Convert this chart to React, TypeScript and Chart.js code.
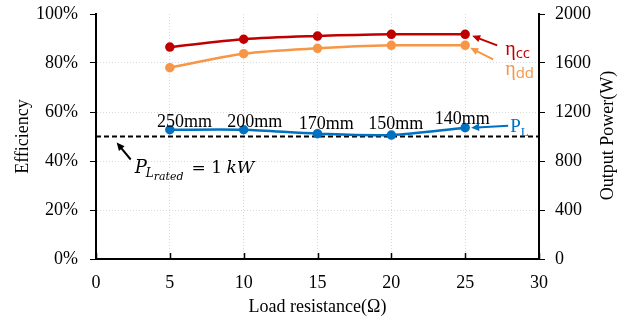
import React, { useEffect, useRef } from "react";
import { Chart, registerables } from "chart.js";

Chart.register(...registerables);

// ---- data ----
const resistance = [5, 10, 15, 20, 25];
const etaCC = [86.5, 89.7, 91.0, 91.7, 91.7];
const etaDD = [78.1, 83.8, 86.0, 87.2, 87.2];
const powerL = [1055, 1055, 1023, 1012, 1072];
const ratedPower = 1000;
const ratedSpan = [0, 30];
const gapLabels = ["250mm", "200mm", "170mm", "150mm", "140mm"];
const xTicks = [0, 5, 10, 15, 20, 25, 30];

// annotation anchors (data units)
const gapLabelAt = [
  { x: 6.0, y: 1118 },
  { x: 10.75, y: 1118 },
  { x: 15.6, y: 1102 },
  { x: 20.3, y: 1102 },
  { x: 24.8, y: 1143 },
];

const RED = "#C00000";
const ORANGE = "#F79646";
const BLUE = "#0070C0";
const FONT = '"Liberation Serif", "Times New Roman", serif';
const MATH = '"DejaVu Serif", "Liberation Serif", serif';
const GRID = "#d9d9d9";

function arrow(ctx: CanvasRenderingContext2D, x1: number, y1: number, x2: number, y2: number, color: string, w = 2, head = 8) {
  const ang = Math.atan2(y2 - y1, x2 - x1);
  ctx.save();
  ctx.strokeStyle = color;
  ctx.fillStyle = color;
  ctx.lineWidth = w;
  ctx.setLineDash([]);
  ctx.beginPath();
  ctx.moveTo(x1, y1);
  ctx.lineTo(x2 - Math.cos(ang) * head * 0.7, y2 - Math.sin(ang) * head * 0.7);
  ctx.stroke();
  ctx.beginPath();
  ctx.moveTo(x2, y2);
  ctx.lineTo(x2 - head * Math.cos(ang) + (head / 2.2) * Math.sin(ang), y2 - head * Math.sin(ang) - (head / 2.2) * Math.cos(ang));
  ctx.lineTo(x2 - head * Math.cos(ang) - (head / 2.2) * Math.sin(ang), y2 - head * Math.sin(ang) + (head / 2.2) * Math.cos(ang));
  ctx.closePath();
  ctx.fill();
  ctx.restore();
}

type Part = { t: string; size: number; dy: number; italic?: boolean; family?: string; dx?: number };
function drawParts(ctx: CanvasRenderingContext2D, x: number, yBase: number, parts: Part[], color: string) {
  ctx.save();
  ctx.fillStyle = color;
  ctx.textAlign = "left";
  ctx.textBaseline = "alphabetic";
  let cx = x;
  for (const p of parts) {
    ctx.font = `${p.italic ? "italic " : ""}${p.size}px ${p.family || FONT}`;
    cx += p.dx || 0;
    ctx.fillText(p.t, cx, yBase + p.dy);
    cx += ctx.measureText(p.t).width;
  }
  ctx.restore();
}

const annotations = {
  id: "annotations",
  beforeDatasetsDraw(chart: any) {
    const ctx = chart.ctx as CanvasRenderingContext2D;
    const xs = chart.scales.x;
    const bottom = chart.chartArea.bottom;
    ctx.save();
    ctx.strokeStyle = "#000";
    ctx.lineWidth = 1.5;
    for (const v of xTicks) {
      const px = Math.round(xs.getPixelForValue(v)) + 0.5;
      ctx.beginPath();
      ctx.moveTo(px, bottom);
      ctx.lineTo(px, bottom - 6);
      ctx.stroke();
    }
    ctx.restore();
  },
  afterDraw(chart: any) {
    const ctx = chart.ctx as CanvasRenderingContext2D;
    const { left, right, top, bottom } = chart.chartArea;
    const xs = chart.scales.x;
    const y1 = chart.scales.y1;
    const midY = (top + bottom) / 2;

    // axis titles
    ctx.save();
    ctx.fillStyle = "#000";
    ctx.font = `18px ${FONT}`;
    ctx.textAlign = "center";
    ctx.textBaseline = "middle";
    ctx.fillText("Load resistance(Ω)", (left + right) / 2, bottom + 48);
    ctx.save();
    ctx.translate(left - 73, midY);
    ctx.rotate(-Math.PI / 2);
    ctx.fillText("Efficiency", 0, 0);
    ctx.restore();
    ctx.save();
    ctx.translate(right + 69, midY - 1);
    ctx.rotate(-Math.PI / 2);
    ctx.fillText("Output Power(W)", 0, 0);
    ctx.restore();

    // gap labels
    ctx.font = `18px ${FONT}`;
    ctx.textAlign = "center";
    ctx.textBaseline = "middle";
    gapLabels.forEach((t, i) => {
      ctx.fillText(t, xs.getPixelForValue(gapLabelAt[i].x), y1.getPixelForValue(gapLabelAt[i].y));
    });
    ctx.restore();

    // series labels + arrows
    const metaCC = chart.getDatasetMeta(0).data;
    const metaDD = chart.getDatasetMeta(1).data;
    const metaPL = chart.getDatasetMeta(2).data;
    const pc = metaCC[metaCC.length - 1];
    const pd = metaDD[metaDD.length - 1];
    const pp = metaPL[metaPL.length - 1];

    arrow(ctx, pc.x + 32, pc.y + 11, pc.x + 7, pc.y + 1.5, RED);
    drawParts(ctx, pc.x + 40, pc.y + 21, [
      { t: "η", size: 20, dy: 0 },
      { t: "cc", size: 15, dy: 3, family: '"Open Sans", sans-serif' },
    ], RED);

    arrow(ctx, pd.x + 28, pd.y + 14, pd.x + 5, pd.y + 2.5, ORANGE);
    drawParts(ctx, pd.x + 40, pd.y + 30, [
      { t: "η", size: 20, dy: 0 },
      { t: "dd", size: 15, dy: 3, family: '"Open Sans", sans-serif' },
    ], ORANGE);

    arrow(ctx, pp.x + 43, pp.y - 2, pp.x + 6, pp.y, BLUE);
    drawParts(ctx, pp.x + 45, pp.y + 4, [
      { t: "P", size: 19, dy: 0 },
      { t: "L", size: 13, dy: 4 },
    ], BLUE);

    // rated annotation
    const ry = y1.getPixelForValue(ratedPower);
    const ax = xs.getPixelForValue(1.4);
    arrow(ctx, ax + 14, ry + 23, ax, ry + 6, "#000");
    drawParts(ctx, ax + 18, ry + 36, [
      { t: "P", size: 18, dy: 0, italic: true, family: MATH },
      { t: "L", size: 12, dy: 4, italic: true, dx: -1, family: MATH },
      { t: "rated", size: 11, dy: 7, italic: true, dx: 0, family: MATH },
      { t: "= 1 ", size: 17, dy: 0, dx: 8, family: MATH },
      { t: "kW", size: 17, dy: 0, italic: true, dx: -1, family: MATH },
    ], "#000");
  },
};

export default function App() {
  const ref = useRef<HTMLCanvasElement | null>(null);
  useEffect(() => {
    if (!ref.current) return;
    const pts = (ys: number[]) => resistance.map((x, i) => ({ x, y: ys[i] }));
    const chart = new Chart(ref.current, {
      type: "line",
      data: {
        datasets: [
          {
            data: pts(etaCC),
            yAxisID: "y",
            borderColor: RED,
            backgroundColor: RED,
            borderWidth: 2.5,
            pointRadius: 3.5,
            tension: 0.3,
          },
          {
            data: pts(etaDD),
            yAxisID: "y",
            borderColor: ORANGE,
            backgroundColor: ORANGE,
            borderWidth: 2.5,
            pointRadius: 3.5,
            tension: 0.3,
          },
          {
            data: pts(powerL),
            yAxisID: "y1",
            borderColor: BLUE,
            backgroundColor: BLUE,
            borderWidth: 2.5,
            pointRadius: 3.5,
            tension: 0.3,
          },
          {
            data: ratedSpan.map((x) => ({ x, y: ratedPower })),
            yAxisID: "y1",
            borderColor: "#000",
            borderWidth: 1.8,
            borderDash: [5, 3],
            pointRadius: 0,
            tension: 0,
          },
        ],
      },
      options: {
        animation: false,
        responsive: false,
        maintainAspectRatio: false,
        layout: { padding: { top: 14, left: 0, right: 0, bottom: 0 } },
        plugins: { legend: { display: false }, tooltip: { enabled: false } },
        scales: {
          x: {
            type: "linear",
            min: 0,
            max: 30,
            ticks: { stepSize: 5, color: "#000", font: { family: FONT, size: 18 }, padding: 13 },
            grid: {
              color: (c: any) => (c.tick && (c.tick.value === 0 || c.tick.value === 30) ? "rgba(0,0,0,0)" : GRID),
              drawTicks: false,
              lineWidth: 1,
            },
            border: { color: "#000", width: 2, dash: [1, 2] },
            afterFit: (s: any) => {
              s.height = 63;
              s.paddingLeft = 0;
              s.paddingRight = 0;
            },
          },
          y: {
            position: "left",
            min: 0,
            max: 100,
            ticks: {
              stepSize: 20,
              color: "#000",
              font: { family: FONT, size: 18 },
              padding: 12,
              callback: (v: any) => v + "%",
            },
            grid: {
              color: (c: any) => (c.tick && (c.tick.value === 100 || c.tick.value === 0) ? "rgba(0,0,0,0)" : GRID),
              tickColor: "#000",
              tickLength: 6,
              tickWidth: 1,
              lineWidth: 1,
            },
            border: { color: "#000", width: 2, dash: [1, 2] },
            afterFit: (s: any) => {
              s.width = 96;
              s.paddingTop = 0;
              s.paddingBottom = 0;
            },
          },
          y1: {
            position: "right",
            min: 0,
            max: 2000,
            ticks: {
              stepSize: 400,
              color: "#000",
              font: { family: FONT, size: 18 },
              padding: 10,
              callback: (v: any) => String(v),
            },
            grid: { drawOnChartArea: false, tickColor: "#000", tickLength: 6, tickWidth: 1 },
            border: { color: "#000", width: 2 },
            afterFit: (s: any) => {
              s.width = 88;
              s.paddingTop = 0;
              s.paddingBottom = 0;
            },
          },
        },
      } as any,
      plugins: [annotations],
    });
    return () => chart.destroy();
  }, []);
  return (
    <div style={{ position: "fixed", left: 0, top: 0, width: 627, height: 322, background: "#fff" }}>
      <canvas ref={ref} width={627} height={322} style={{ display: "block" }} />
    </div>
  );
}
